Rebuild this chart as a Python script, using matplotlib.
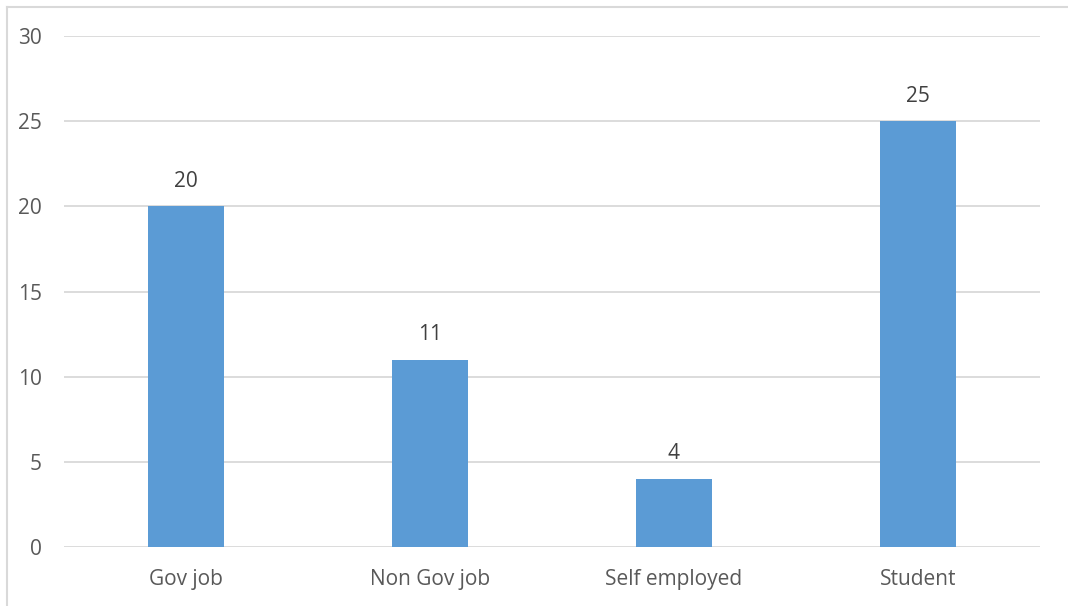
import matplotlib
matplotlib.use("Agg")
import matplotlib.pyplot as plt
from matplotlib.lines import Line2D

categories = ["Gov job", "Non Gov job", "Self employed", "Student"]
counts = [20, 11, 4, 25]
y_ticks = [0, 5, 10, 15, 20, 25, 30]

BAR = "#5B9BD5"
GRID = "#D9D9D9"
TEXT = "#595959"

plt.rcParams["font.family"] = ["Open Sans", "DejaVu Sans"]

W, H = 1068, 606
fig = plt.figure(figsize=(W / 100, H / 100), dpi=100)
ax = fig.add_axes([64 / W, 1 - 547 / H, (1040 - 64) / W, (547 - 36) / H])

x = range(len(categories))
bars = ax.bar(x, counts, width=0.315, color=BAR, zorder=3)
for xi, v in zip(x, counts):
    ax.annotate(str(v), (xi, v), xytext=(0, 18), textcoords="offset points",
                ha="center", va="center", fontsize=15, color="#404040")

ax.set_xlim(-0.5, len(categories) - 0.5)
ax.set_ylim(0, 30)
ax.set_yticks(y_ticks)
ax.set_xticks(list(x))
ax.set_xticklabels(categories)
ax.yaxis.grid(True, color=GRID, linewidth=1.3, zorder=0)
for s in ax.spines.values():
    s.set_visible(False)
ax.tick_params(axis="both", length=0, labelsize=15, colors=TEXT)
ax.tick_params(axis="y", pad=16)
ax.tick_params(axis="x", pad=16)

# outer chart frame (left and top edges)
fig.add_artist(Line2D([6.5 / W, 6.5 / W], [0, 1 - 6.5 / H], transform=fig.transFigure,
                      color=GRID, linewidth=1.5))
fig.add_artist(Line2D([6.5 / W, 1], [1 - 6.5 / H, 1 - 6.5 / H], transform=fig.transFigure,
                      color=GRID, linewidth=1.5))

fig.savefig("out.png", dpi=100, facecolor="white")
